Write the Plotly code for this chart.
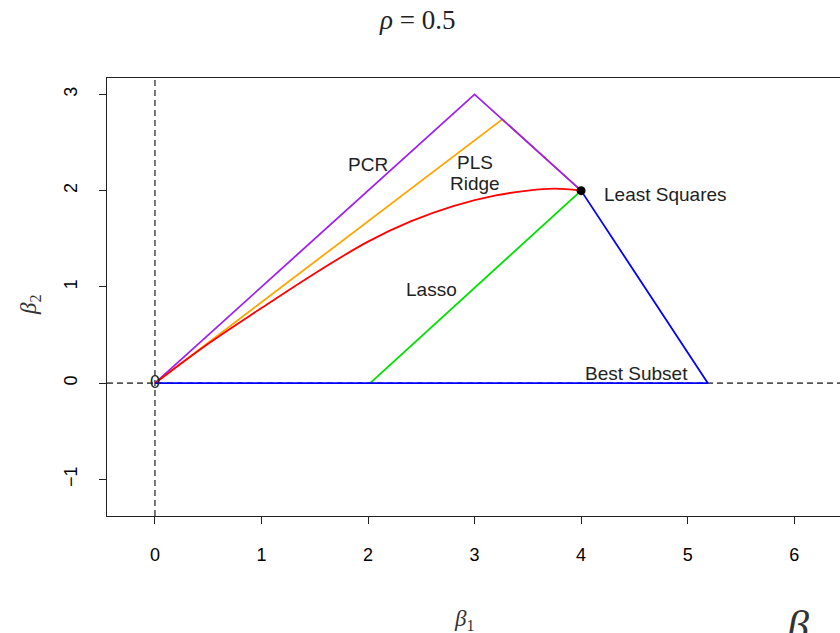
import plotly.graph_objects as go

# Coefficient paths in the (beta1, beta2) plane
pls_b1 = [0.0, 3.26, 4.0]
pls_b2 = [0.0, 2.74, 2.0]

pcr_b1 = [0.0, 3.0, 4.0]
pcr_b2 = [0.0, 3.0, 2.0]

ridge_b1 = [0.0, 0.5, 1.0, 1.5, 2.0, 2.4, 2.8, 3.2, 3.5, 3.75, 4.0]
ridge_b2 = [0.0, 0.41, 0.78, 1.14, 1.47, 1.68, 1.84, 1.95, 2.0, 2.02, 2.0]

lasso_b1 = [2.02, 4.0]
lasso_b2 = [0.0, 2.0]

subset_b1 = [0.0, 5.19, 4.0]
subset_b2 = [0.0, 0.0, 2.0]

ls_b1 = [4.0]
ls_b2 = [2.0]

x_ticks = [0, 1, 2, 3, 4, 5, 6]
y_ticks = [-1, 0, 1, 2, 3]

# Method labels: (text, beta1, beta2)
labels = [
    ("PCR", 2.0, 2.27),
    ("PLS", 3.0, 2.29),
    ("Ridge", 3.0, 2.07),
    ("Lasso", 2.6, 0.97),
    ("Best Subset", 4.52, 0.10),
]

W, H = 840, 633
L, R, T, B = 107, 0, 78, 117
pw, ph = W - L - R, H - T - B

fig = go.Figure()

paths = [
    (pls_b1, pls_b2, "#FFA500", "linear"),
    (pcr_b1, pcr_b2, "#A020F0", "linear"),
    (ridge_b1, ridge_b2, "#FF0000", "spline"),
    (lasso_b1, lasso_b2, "#00E000", "linear"),
    (subset_b1, subset_b2, "#0000FF", "linear"),
]

fig.add_vline(x=0, line=dict(color="#555555", width=1.6, dash="6px,4px"), layer="below")
fig.add_hline(y=0, line=dict(color="#555555", width=1.6, dash="6px,4px"), layer="below")

for xs, ys, col, shape in paths:
    fig.add_trace(go.Scatter(x=xs, y=ys, mode="lines",
                             line=dict(color=col, width=1.8, shape=shape, smoothing=1.0),
                             hoverinfo="skip"))

fig.add_trace(go.Scatter(x=ls_b1, y=ls_b2, mode="markers",
                         marker=dict(color="black", size=9)))

# origin marker drawn as a "0" glyph
fig.add_trace(go.Scatter(x=[0], y=[0], mode="text", text=["0"],
                         textfont=dict(family="Liberation Sans", size=18, color="#222222"),
                         textposition="middle center"))

lab_font = dict(family="Liberation Sans", size=19, color="#222222")
for txt, bx, by in labels:
    fig.add_annotation(x=bx, y=by, text=txt, showarrow=False, font=lab_font)

fig.add_annotation(x=ls_b1[0] + 0.20, y=ls_b2[0] - 0.04, text="Least Squares",
                   xanchor="left", showarrow=False, font=lab_font)

# titles
serif = "Liberation Serif"
fig.add_annotation(xref="paper", yref="paper", x=(417 - L) / pw, y=(H - B - 20) / ph,
                   text="<i>ρ</i> = 0.5", showarrow=False, yanchor="middle",
                   font=dict(family=serif, size=27, color="#222222"))
fig.add_annotation(xref="paper", yref="paper", x=(464 - L) / pw, y=(H - B - 620) / ph,
                   text="<i>β</i><sub>1</sub>", showarrow=False, yanchor="middle",
                   font=dict(family=serif, size=23, color="#333333"))
fig.add_annotation(xref="paper", yref="paper", x=(30 - L) / pw, y=(H - B - 305) / ph,
                   text="<i>β</i><sub>2</sub>", showarrow=False, textangle=-90,
                   xanchor="center", yanchor="middle",
                   font=dict(family=serif, size=23, color="#333333"))
fig.add_annotation(xref="paper", yref="paper", x=(784 - L) / pw, y=(H - B - 600) / ph,
                   text="<i>β</i>", showarrow=False, xanchor="left", yanchor="top",
                   font=dict(family=serif, size=44, color="#333333"))

axis_font = dict(family="Liberation Sans", size=18, color="#000000")
fig.update_xaxes(range=[-0.45, 6.43], tickvals=x_ticks, ticks="outside", ticklen=7,
                 tickcolor="#222222", showline=True, linecolor="#222222", linewidth=1.2,
                 mirror=True, showgrid=False, zeroline=False, tickfont=axis_font,
                 ticklabelstandoff=15)
fig.update_yaxes(range=[-1.38, 3.17], tickvals=y_ticks, ticks="outside", ticklen=7,
                 tickcolor="#222222", showline=True, linecolor="#222222", linewidth=1.2,
                 mirror=False, showgrid=False, zeroline=False, tickfont=axis_font,
                 tickangle=-90, ticklabelstandoff=15)

fig.update_layout(width=W, height=H, margin=dict(l=L, r=R, t=T, b=B),
                  font=dict(family="Liberation Sans", size=18, color="#000000"),
                  plot_bgcolor="white", paper_bgcolor="white", showlegend=False)

fig.write_html("out.html")
